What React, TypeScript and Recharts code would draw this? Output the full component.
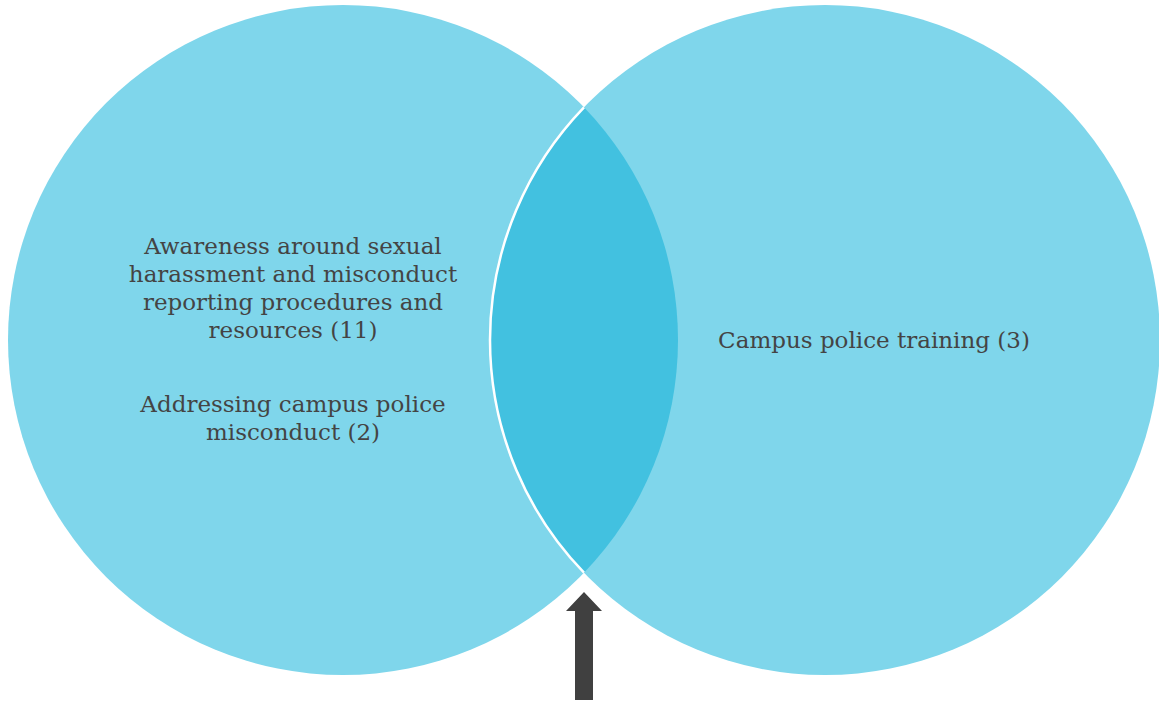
import React from 'react';
import { ScatterChart, Scatter, XAxis, YAxis } from 'recharts';

// Venn sets and their items
const SET_NAMES = ['Awareness & reporting', 'Campus police training'];
const LEFT_ITEMS = [
  'Awareness around sexual|harassment and misconduct|reporting procedures and|resources (11)',
  'Addressing campus police|misconduct (2)',
];
const RIGHT_ITEMS = ['Campus police training (3)'];
const SHARED_ITEMS: string[] = [];

const W = 1159;
const H = 708;
const FILL = '#7FD6EB';
const LENS = '#42C1E0';
const TEXT = '#444444';
const FONT = '"DejaVu Serif", Georgia, serif';

// layout of the diagram (pixel-like units on hidden axes)
const R = 335;
const CIRCLES = [
  { name: SET_NAMES[0], x: 343, y: 340, r: R },
  { name: SET_NAMES[1], x: 825, y: 340, r: R },
];
const d = CIRCLES[1].x - CIRCLES[0].x;
const ix = CIRCLES[0].x + d / 2;
const ih = Math.sqrt(R * R - (d / 2) * (d / 2));

const lensPoint = [{ x: ix, y: CIRCLES[0].y, items: SHARED_ITEMS }];
const arrowPoint = [{ x: ix, y: 592 }];

const labelPoints = [
  { x: 293, y: 246, text: LEFT_ITEMS[0] },
  { x: 293, y: 404, text: LEFT_ITEMS[1] },
  { x: 874, y: 340, text: RIGHT_ITEMS[0] },
];

const CircleShape = (props: any) => {
  const { cx, cy, payload } = props;
  return <circle cx={cx} cy={cy} r={payload.r} fill={FILL} />;
};

const LensShape = (props: any) => {
  const { cx, cy } = props;
  const top = `${cx} ${cy - ih}`;
  const bot = `${cx} ${cy + ih}`;
  return (
    <g>
      <path d={`M ${top} A ${R} ${R} 0 0 1 ${bot} A ${R} ${R} 0 0 1 ${top} Z`} fill={LENS} />
      <path d={`M ${bot} A ${R} ${R} 0 0 1 ${top}`} fill="none" stroke="#FFFFFF" strokeWidth={2.5} />
    </g>
  );
};

const ArrowShape = (props: any) => {
  const { cx, cy } = props;
  const pts = [
    [cx, cy],
    [cx + 18, cy + 19],
    [cx + 9, cy + 19],
    [cx + 9, 700],
    [cx - 9, 700],
    [cx - 9, cy + 19],
    [cx - 18, cy + 19],
  ]
    .map((p) => p.join(','))
    .join(' ');
  return <polygon points={pts} fill="#404040" />;
};

const LabelShape = (props: any) => {
  const { cx, cy, payload } = props;
  const lines: string[] = payload.text.split('|');
  return (
    <text x={cx} y={cy} textAnchor="middle" fill={TEXT} fontFamily={FONT} fontSize={23}>
      {lines.map((l, i) => (
        <tspan key={i} x={cx} y={cy + i * 28} dominantBaseline="central">
          {l}
        </tspan>
      ))}
    </text>
  );
};

export default function App() {
  return (
    <div style={{ position: 'absolute', left: 0, top: 0, width: W, height: H, background: '#fff' }}>
      <ScatterChart width={W} height={H} margin={{ top: 0, right: 0, bottom: 0, left: 0 }}>
        <XAxis type="number" dataKey="x" domain={[0, W]} hide />
        <YAxis type="number" dataKey="y" domain={[0, H]} reversed hide />
        <Scatter data={CIRCLES} shape={CircleShape} isAnimationActive={false} />
        <Scatter data={lensPoint} shape={LensShape} isAnimationActive={false} />
        <Scatter data={arrowPoint} shape={ArrowShape} isAnimationActive={false} />
        <Scatter data={labelPoints} shape={LabelShape} isAnimationActive={false} />
      </ScatterChart>
    </div>
  );
}
